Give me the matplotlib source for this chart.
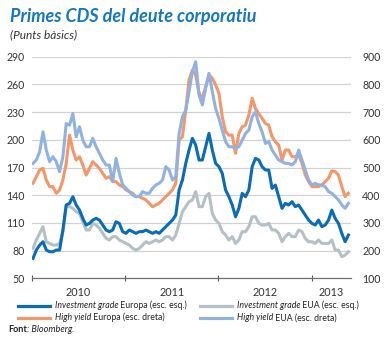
import pandas as pd
import matplotlib
matplotlib.use('Agg')
import matplotlib.pyplot as plt
from matplotlib.lines import Line2D

plt.rcParams['font.family'] = 'Lato'

# CDS spreads, basis points, sampled about every 13 days
dates = pd.date_range('2010-01-05', periods=96, freq='13D')

# Investment grade Europe (left axis)
ig_eur = [71.6, 80.6, 86.0, 89.6, 80.6, 78.8, 78.8, 80.6, 80.6, 102.3, 129.4, 131.2,
          138.4, 129.4, 123.9, 114.9, 107.7, 109.5, 113.1, 114.9, 113.1, 107.7, 102.3,
          100.5, 102.3, 111.3, 109.5, 100.5, 98.7, 102.3, 100.5, 98.7, 100.5, 100.5, 102.3,
          100.5, 98.7, 100.5, 98.7, 102.3, 105.9, 109.5, 113.1, 118.5, 145.6, 156.4, 174.5,
          188.9, 201.6, 194.3, 178.1, 178.1, 192.5, 207.0, 188.9, 174.5, 170.9, 163.6, 145.6,
          138.4, 129.4, 116.7, 125.7, 142.0, 138.4, 145.6, 170.9, 179.9, 178.1, 170.9, 167.3,
          167.3, 147.4, 151.0, 138.4, 125.7, 131.2, 129.4, 133.0, 127.6, 129.4, 123.9, 118.5,
          113.1, 109.5, 107.7, 113.1, 105.9, 107.7, 113.1, 123.9, 114.9, 109.5, 98.7, 89.6, 96.9]

# Investment grade US (left axis)
ig_eua = [82.4, 91.5, 98.7, 105.9, 89.6, 87.8, 86.0, 86.0, 87.8, 100.5, 129.4, 127.6,
          125.7, 122.1, 120.3, 111.3, 102.3, 102.3, 109.5, 107.7, 104.1, 98.7, 93.3,
          91.5, 95.1, 95.1, 91.5, 89.6, 87.8, 86.0, 82.4, 80.6, 82.4, 86.0, 89.6,
          87.8, 89.6, 91.5, 89.6, 91.5, 95.1, 95.1, 91.5, 96.9, 109.5, 122.1, 127.6,
          133.0, 134.8, 143.8, 127.6, 127.6, 138.4, 142.0, 120.3, 113.1, 109.5, 100.5, 96.9,
          91.5, 95.1, 87.8, 91.5, 100.5, 100.5, 105.9, 116.7, 116.7, 109.5, 107.7, 107.7,
          109.5, 102.3, 102.3, 98.7, 89.6, 95.1, 98.7, 95.1, 95.1, 102.3, 100.5, 93.3,
          89.6, 89.6, 87.8, 91.5, 87.8, 87.8, 87.8, 91.5, 80.6, 80.6, 73.4, 75.2, 78.8]

# High yield Europe (right axis)
hy_eur = [443, 467, 491, 497, 455, 431, 431, 407, 419, 455, 515, 617,
          563, 527, 539, 509, 473, 497, 521, 509, 497, 479, 461,
          467, 449, 449, 437, 431, 419, 413, 407, 395, 395, 389, 383,
          371, 358, 365, 371, 383, 395, 407, 419, 443, 599, 611, 707,
          816, 852, 834, 768, 750, 792, 834, 822, 798, 768, 683, 629,
          617, 617, 551, 623, 647, 653, 689, 750, 713, 695, 677, 659,
          653, 611, 593, 581, 527, 563, 563, 539, 539, 545, 515, 473,
          449, 431, 431, 431, 437, 449, 461, 488, 485, 473, 431, 395, 407]

# High yield US (right axis)
hy_eua = [515, 527, 557, 629, 563, 521, 539, 521, 485, 539, 659, 653,
          695, 611, 647, 599, 575, 575, 605, 575, 551, 527, 509,
          509, 449, 533, 479, 437, 425, 413, 401, 395, 395, 413, 407,
          407, 425, 437, 443, 455, 503, 491, 455, 467, 623, 683, 707,
          774, 846, 882, 762, 726, 786, 840, 774, 713, 677, 635, 593,
          575, 575, 569, 575, 599, 623, 635, 683, 701, 659, 629, 587,
          593, 563, 545, 527, 521, 515, 515, 509, 521, 563, 527, 491,
          455, 437, 443, 437, 437, 431, 413, 407, 395, 383, 365, 353, 371]

year_labels = ['2010', '2011', '2012', '2013']
year_pos = pd.to_datetime(['2010-07-02', '2011-07-02', '2012-07-02', '2013-03-18'])
year_starts = pd.to_datetime(['2010-01-01', '2011-01-01', '2012-01-01', '2013-01-01'])

c_ig_eur = '#0a6cb4'
c_ig_eua = '#b5c0c5'
c_hy_eur = '#f3976a'
c_hy_eua = '#8fb2e0'

fig = plt.figure(figsize=(3.86, 3.38), dpi=100)
ax = fig.add_axes([0.0829, 0.1766, 0.8264, 0.6556])
ax2 = ax.twinx()

lw = 2.2
ax.plot(dates, ig_eua, color=c_ig_eua, lw=lw)
ax.plot(dates, ig_eur, color=c_ig_eur, lw=lw)
ax2.plot(dates, hy_eur, color=c_hy_eur, lw=lw)
ax2.plot(dates, hy_eua, color=c_hy_eua, lw=lw)

ax.set_xlim(pd.Timestamp('2010-01-01'), pd.Timestamp('2013-06-03'))
ax.set_ylim(50, 290)
ax2.set_ylim(100, 900)
ax.set_yticks(range(50, 291, 30))
ax2.set_yticks(range(100, 901, 100))
ax.grid(axis='y', color='#d2d2d2', lw=0.9)
ax.set_axisbelow(True)

for a in (ax, ax2):
    for s in ('top', 'left', 'right'):
        a.spines[s].set_visible(False)
ax2.spines['bottom'].set_visible(False)
ax.spines['bottom'].set_color('#707070')
ax.spines['bottom'].set_linewidth(0.9)

ax.tick_params(axis='y', length=0, labelsize=7.6, pad=5, labelcolor='#333333')
ax2.tick_params(axis='y', length=0, labelsize=7.6, pad=8, labelcolor='#333333')

ax.set_xticks(year_starts)
ax.set_xticklabels([])
ax.tick_params(axis='x', which='major', direction='inout', length=4, width=0.8, color='#555555')
ax.set_xticks(year_pos, minor=True)
ax.set_xticklabels(year_labels, minor=True)
ax.tick_params(axis='x', which='minor', length=0, labelsize=7.8, pad=6, labelcolor='#333333')

fig.text(0.026, 0.936, 'Primes CDS del deute corporatiu', fontsize=13,
         fontweight='bold', fontstyle='italic', color='#1577bf', va='baseline')
fig.text(0.026, 0.886, '(Punts bàsics)', fontsize=8.6, fontstyle='italic',
         color='#333333', va='baseline')

# legend drawn by hand: italic term followed by upright text
renderer = fig.canvas.get_renderer()
fig_w = fig.bbox.width
legend_items = [
    (0.0466, 0.0956, c_ig_eur, 'Investment grade', ' Europa (esc. esq.)'),
    (0.518, 0.0956, c_ig_eua, 'Investment grade', ' EUA (esc. esq.)'),
    (0.0466, 0.0601, c_hy_eur, 'High yield', ' Europa (esc. dreta)'),
    (0.518, 0.0601, c_hy_eua, 'High yield', ' EUA (esc. dreta)'),
]
for x0, y0, col, term, rest in legend_items:
    fig.add_artist(Line2D([x0, x0 + 0.082], [y0, y0], color=col, lw=2.3,
                          transform=fig.transFigure))
    t = fig.text(x0 + 0.095, y0, term, fontsize=6.3, fontstyle='italic',
                 color='#222222', va='center')
    w = t.get_window_extent(renderer).width / fig_w
    fig.text(x0 + 0.095 + w, y0, rest, fontsize=6.3, color='#222222', va='center')

src = fig.text(0.021, 0.0237, 'Font', fontsize=6.6, fontweight='bold',
               color='#222222', va='center')
w = src.get_window_extent(renderer).width / fig_w
fig.text(0.021 + w, 0.0237, ': Bloomberg.', fontsize=6.6, fontstyle='italic',
         color='#222222', va='center')

fig.savefig('out.png', dpi=100)
